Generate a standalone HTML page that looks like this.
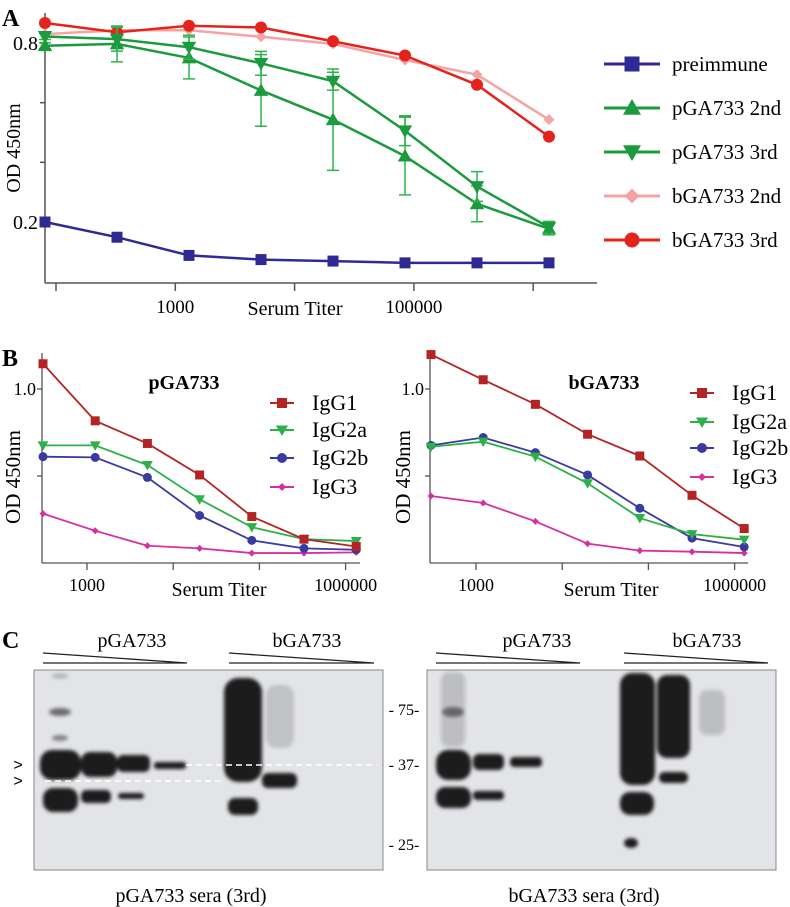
<!DOCTYPE html>
<html><head><meta charset="utf-8"><style>
html,body{margin:0;padding:0;background:#fff;}
svg{display:block;font-family:"Liberation Serif",serif;}
</style></head><body>
<svg id="fig" width="790" height="907" viewBox="0 0 790 907" xmlns="http://www.w3.org/2000/svg">
<defs>
<filter id="blur2" x="-50%" y="-50%" width="200%" height="200%"><feGaussianBlur stdDeviation="1.8"/></filter>
</defs>
<g id="panelA">
<text x="2" y="26" font-size="24" font-weight="bold">A</text>
<line x1="45" y1="13" x2="45" y2="283" stroke="#555" stroke-width="1.5"/>
<line x1="45" y1="283" x2="597" y2="283" stroke="#555" stroke-width="1.5"/>
<text x="20" y="148" font-size="20" text-anchor="middle" transform="rotate(-90 20 148)">OD 450nm</text>
<text x="295" y="315" font-size="20" text-anchor="middle">Serum Titer</text>
</g>
<g id="legendA"></g>
<g>
<text x="2" y="366" font-size="24" font-weight="bold">B</text>
<text x="184" y="389" font-size="20" font-weight="bold" text-anchor="middle">pGA733</text>
<text x="604" y="389" font-size="20" font-weight="bold" text-anchor="middle">bGA733</text>
<text x="20" y="477" font-size="21" text-anchor="middle" transform="rotate(-90 20 477)">OD 450nm</text>
<text x="410" y="477" font-size="21" text-anchor="middle" transform="rotate(-90 410 477)">OD 450nm</text>
<text x="219" y="596" font-size="20" text-anchor="middle">Serum Titer</text>
<text x="611" y="596" font-size="20" text-anchor="middle">Serum Titer</text>
</g>
<g>
<text x="2" y="648" font-size="24" font-weight="bold">C</text>
<text x="132" y="647" font-size="20" text-anchor="middle">pGA733</text>
<text x="307" y="647" font-size="20" text-anchor="middle">bGA733</text>
<text x="537" y="647" font-size="20" text-anchor="middle">pGA733</text>
<text x="707" y="647" font-size="20" text-anchor="middle">bGA733</text>
<g stroke="#222" stroke-width="1.3" fill="none">
<path d="M43 653 L187 663 M43 663 L187 663" /><path d="M229 653 L374 663 M229 663 L374 663"/>
<path d="M436 653 L580 663 M436 663 L580 663"/><path d="M624 653 L768 663 M624 663 L768 663"/>
</g>
<rect x="34" y="670" width="349" height="200" fill="#e3e4e8" stroke="#888" stroke-width="1"/>
<rect x="427" y="670" width="349" height="200" fill="#e3e4e8" stroke="#888" stroke-width="1"/>
<g fill="#1e1e1e" filter="url(#blur2)">
<rect x="40" y="750" width="41" height="30" rx="12"/><rect x="43" y="788" width="35" height="24" rx="10"/>
<ellipse cx="60" cy="712" rx="11" ry="4" opacity="0.6"/><ellipse cx="60" cy="738" rx="8" ry="3" opacity="0.5"/><ellipse cx="60" cy="676" rx="8" ry="2" opacity="0.3"/>
<rect x="81" y="752" width="36" height="25" rx="9"/><rect x="81" y="790" width="30" height="13" rx="5"/>
<rect x="117" y="755" width="33" height="17" rx="6"/><rect x="118" y="793" width="26" height="6" rx="3"/>
<rect x="154" y="762" width="32" height="7" rx="3"/>
<rect x="224" y="678" width="38" height="104" rx="14"/><rect x="228" y="798" width="30" height="17" rx="7"/>
<rect x="262" y="773" width="35" height="15" rx="6"/>
<rect x="266" y="685" width="28" height="63" rx="10" opacity="0.15"/>
</g>
<g fill="#1e1e1e" filter="url(#blur2)">
<rect x="436" y="750" width="35" height="30" rx="12"/><rect x="436" y="787" width="35" height="21" rx="9"/>
<ellipse cx="453" cy="712" rx="11" ry="5" opacity="0.55"/><rect x="441" y="672" width="24" height="75" rx="8" opacity="0.2"/>
<rect x="473" y="754" width="31" height="16" rx="6"/><rect x="473" y="791" width="31" height="9" rx="4"/>
<rect x="510" y="757" width="32" height="10" rx="4"/>
<rect x="620" y="673" width="35" height="112" rx="12"/><rect x="620" y="792" width="34" height="23" rx="10"/><ellipse cx="631" cy="843" rx="7" ry="5"/>
<rect x="657" y="675" width="33" height="83" rx="10"/><rect x="659" y="772" width="29" height="11" rx="5"/>
<rect x="699" y="690" width="26" height="45" rx="8" opacity="0.2"/>
</g>
<g stroke="#fff" stroke-width="1.5" stroke-dasharray="6,4">
<line x1="186" y1="765" x2="377" y2="765"/><line x1="45" y1="781" x2="222" y2="781"/>
</g>
<text x="18" y="770" font-size="16" text-anchor="middle" font-family="Liberation Sans, sans-serif">&gt;</text>
<text x="18" y="786" font-size="16" text-anchor="middle" font-family="Liberation Sans, sans-serif">&gt;</text>
<g font-size="16" text-anchor="middle">
<text x="404" y="715">- 75-</text><text x="404" y="770">- 37-</text><text x="404" y="850">- 25-</text>
</g>
<text x="191" y="902" font-size="20" text-anchor="middle">pGA733 sera (3rd)</text>
<text x="584" y="902" font-size="20" text-anchor="middle">bGA733 sera (3rd)</text>
</g>
</svg>
<script>
const aTickLabels = ["", "1000", "", "100000", ""];
const aYTickLabels = ["0.8", "", "", "0.2"];
const aYTickValues = [0.8, 0.6, 0.4, 0.2];
const preimmune = [0.20, 0.149, 0.088, 0.074, 0.069, 0.063, 0.063, 0.063];
const pGA2nd = [0.791, 0.797, 0.75, 0.641, 0.543, 0.421, 0.261, 0.177];
const pGA2ndErr = [0.01, 0.06, 0.07, 0.12, 0.17, 0.13, 0.06, 0.02];
const pGA3rd = [0.822, 0.813, 0.786, 0.732, 0.672, 0.506, 0.319, 0.182];
const pGA3rdErr = [0.01, 0.04, 0.04, 0.04, 0.03, 0.05, 0.05, 0.02];
const bGA2nd = [0.83, 0.843, 0.843, 0.821, 0.797, 0.743, 0.694, 0.543];
const bGA3rd = [0.867, 0.836, 0.858, 0.852, 0.806, 0.758, 0.66, 0.486];
const bTickLabels = ["1000", "", "", "1000000"];
const leftIgG1 = [1.145, 0.817, 0.687, 0.506, 0.267, 0.137, 0.095];
const leftIgG2a = [0.676, 0.676, 0.563, 0.366, 0.206, 0.137, 0.126];
const leftIgG2b = [0.611, 0.607, 0.492, 0.273, 0.13, 0.084, 0.076];
const leftIgG3 = [0.284, 0.185, 0.099, 0.084, 0.057, 0.057, 0.061];
const rightIgG1 = [1.198, 1.053, 0.912, 0.74, 0.615, 0.389, 0.198];
const rightIgG2a = [0.668, 0.697, 0.611, 0.458, 0.258, 0.166, 0.134];
const rightIgG2b = [0.676, 0.721, 0.634, 0.506, 0.315, 0.143, 0.092];
const rightIgG3 = [0.385, 0.345, 0.239, 0.111, 0.071, 0.065, 0.057];

const NS = "http://www.w3.org/2000/svg";
const svg = document.getElementById("fig");
function mk(tag, attrs, parent) {
  const e = document.createElementNS(NS, tag);
  for (const k in attrs) e.setAttribute(k, attrs[k]);
  (parent || svg).appendChild(e);
  return e;
}
function marker(shape, cx, cy, s, color, parent) {
  let e;
  if (shape === "square") e = mk("rect", {x: cx - s/2, y: cy - s/2, width: s, height: s, fill: color}, parent);
  else if (shape === "circle") e = mk("circle", {cx: cx, cy: cy, r: s/2, fill: color}, parent);
  else if (shape === "up") e = mk("polygon", {points: `${cx},${cy - s*0.6} ${cx - s*0.6},${cy + s*0.45} ${cx + s*0.6},${cy + s*0.45}`, fill: color}, parent);
  else if (shape === "down") e = mk("polygon", {points: `${cx},${cy + s*0.6} ${cx - s*0.6},${cy - s*0.45} ${cx + s*0.6},${cy - s*0.45}`, fill: color}, parent);
  else e = mk("polygon", {points: `${cx},${cy - s/2} ${cx + s/2},${cy} ${cx},${cy + s/2} ${cx - s/2},${cy}`, fill: color}, parent);
  return e;
}

const axA = i => 45 + 72 * i;
const ayA = v => 222 - (v - 0.2) * 298.3;
const gA = mk("g", {});


aYTickValues.forEach((v, i) => {
  const t = mk("line", {x1: 40, x2: 45, y1: ayA(v), y2: ayA(v), stroke: "#555", "stroke-width": 1.5}, gA);
  
  
  if (aYTickLabels[i]) {
    const tl = mk("text", {x: 38, y: ayA(v) + 7, "font-size": 20, "text-anchor": "end"}, gA);
    tl.textContent = aYTickLabels[i];
    
    
  }
});
aTickLabels.forEach((lab, i) => {
  const x = 56 + 119.3 * i;
  const t = mk("line", {x1: x, x2: x, y1: 283, y2: 291, stroke: "#555", "stroke-width": 1.5}, gA);
  
  
  if (lab) {
    const tl = mk("text", {x: x, y: 313, "font-size": 19, "text-anchor": "middle"}, gA);
    tl.textContent = lab;
    
    
  }
});
function seriesA(vals, err, color, errColor, shape, size, name) {
  const g = mk("g", {}, gA);
  
  
  if (err) vals.forEach((v, i) => {
    const x = axA(i), y1 = ayA(v + err[i]), y2 = ayA(v - err[i]);
    const eb = mk("path", {d: `M${x} ${y1} L${x} ${y2} M${x-6} ${y1} L${x+6} ${y1} M${x-6} ${y2} L${x+6} ${y2}`, stroke: errColor, "stroke-width": 1.5, fill: "none"}, g);
    
    
  });
  const pl = mk("polyline", {points: vals.map((v, i) => axA(i) + "," + ayA(v)).join(" "), fill: "none", stroke: color, "stroke-width": 2.5}, g);
  
  
  vals.forEach((v, i) => {
    const m = marker(shape, axA(i), ayA(v), size, color, g);
    
    
  });
}
seriesA(bGA2nd, null, "#f6a3a3", null, "diamond", 11, "series-bga733-2nd");
seriesA(bGA3rd, null, "#e3231c", null, "circle", 12, "series-bga733-3rd");
seriesA(pGA2nd, pGA2ndErr, "#1c9a3e", "#2fb34e", "up", 12, "series-pga733-2nd");
seriesA(pGA3rd, pGA3rdErr, "#1c9a3e", "#2fb34e", "down", 12, "series-pga733-3rd");
seriesA(preimmune, null, "#2f2a93", null, "square", 11, "series-preimmune");

const legA = document.getElementById("legendA");
const legANames = ["preimmune", "pGA733 2nd", "pGA733 3rd", "bGA733 2nd", "bGA733 3rd"];
const legAColors = ["#2f2a93", "#1c9a3e", "#1c9a3e", "#f6a3a3", "#e3231c"];
const legAShapes = ["square", "up", "down", "diamond", "circle"];
legANames.forEach((n, i) => {
  const y = 64 + 44 * i;
  const g = mk("g", {}, legA);
  
  
  mk("line", {x1: 604, x2: 660, y1: y, y2: y, stroke: legAColors[i], "stroke-width": 3}, g);
  marker(legAShapes[i], 632, y, 15, legAColors[i], g);
  const t = mk("text", {x: 672, y: y + 7, "font-size": 21}, g);
  t.textContent = n;
});

const ayB = v => 563 - v * 174;
const bNames = ["IgG1", "IgG2a", "IgG2b", "IgG3"];
const bColors = ["#b32424", "#2db04a", "#3b3a9f", "#d6309f"];
const bShapes = ["square", "down", "circle", "diamond"];
function chartB(x0, tick0, data, legX, legY, name) {
  const g = mk("g", {});
  
  
  const ax = i => (x0 + 1) + 52.2 * i;
  mk("line", {x1: x0, x2: x0, y1: 353, y2: 563, stroke: "#555", "stroke-width": 1.3}, g);
  mk("line", {x1: x0, x2: x0 + 318, y1: 563, y2: 563, stroke: "#555", "stroke-width": 1.3}, g);
  [1.0, 0.5].forEach(v => {
    mk("line", {x1: x0 - 5, x2: x0, y1: ayB(v), y2: ayB(v), stroke: "#555", "stroke-width": 1.3}, g);
  });
  const yl = mk("text", {x: x0 - 6, y: ayB(1.0) + 6, "font-size": 18, "text-anchor": "end"}, g);
  yl.textContent = "1.0";
  
  
  bTickLabels.forEach((lab, i) => {
    const x = tick0 + 86.2 * i;
    mk("line", {x1: x, x2: x, y1: 563, y2: 570, stroke: "#555", "stroke-width": 1.3}, g);
    if (lab) {
      const t = mk("text", {x: x, y: 591, "font-size": 18, "text-anchor": "middle"}, g);
      t.textContent = lab;
      
      
    }
  });
  [3, 2, 1, 0].forEach(k => {
    const vals = data[k];
    const sg = mk("g", {}, g);
    
    
    mk("polyline", {points: vals.map((v, i) => ax(i) + "," + ayB(v)).join(" "), fill: "none", stroke: bColors[k], "stroke-width": 1.8}, sg);
    vals.forEach((v, i) => {
      const m = marker(bShapes[k], ax(i), ayB(v), bShapes[k] === "diamond" ? 7 : 9, bColors[k], sg);
      
      
    });
  });
  bNames.forEach((n, k) => {
    const y = legY[k];
    const lg = mk("g", {}, g);
    
    
    mk("line", {x1: legX, x2: legX + 24, y1: y, y2: y, stroke: bColors[k], "stroke-width": 2}, lg);
    marker(bShapes[k], legX + 12, y, bShapes[k] === "diamond" ? 8 : 10, bColors[k], lg);
    const t = mk("text", {x: legX + 42, y: y + 7, "font-size": 22}, lg);
    t.textContent = n;
  });
}
chartB(42, 87, [leftIgG1, leftIgG2a, leftIgG2b, leftIgG3], 270, [403, 430, 458, 487], "b-left-chart");
chartB(430, 476, [rightIgG1, rightIgG2a, rightIgG2b, rightIgG3], 690, [393, 422, 448, 477], "b-right-chart");
</script>
</body></html>
